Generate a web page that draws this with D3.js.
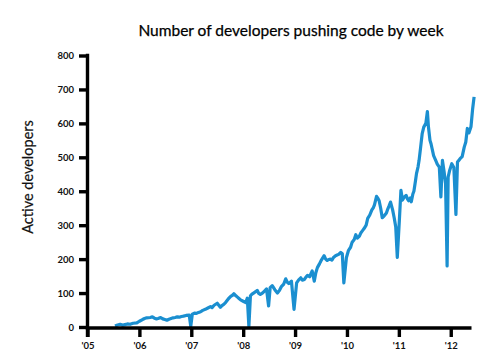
<!DOCTYPE html>
<html><head><meta charset="utf-8">
<script src="https://cdn.jsdelivr.net/npm/d3@7"></script>
<style>body{margin:0;background:#fff}svg{display:block}</style>
</head><body>
<svg id="c" width="487" height="363"></svg>
<script>
const years = [2005.53,2005.58,2005.63,2005.68,2005.72,2005.77,2005.82,2005.88,2005.95,2006.00,2006.06,2006.10,2006.14,2006.21,2006.25,2006.29,2006.33,2006.36,2006.41,2006.45,2006.49,2006.53,2006.57,2006.61,2006.65,2006.69,2006.73,2006.77,2006.81,2006.85,2006.90,2006.96,2006.99,2007.02,2007.06,2007.10,2007.14,2007.18,2007.22,2007.27,2007.32,2007.37,2007.40,2007.44,2007.47,2007.50,2007.53,2007.56,2007.59,2007.62,2007.66,2007.69,2007.72,2007.76,2007.79,2007.82,2007.86,2007.89,2007.92,2007.95,2008.00,2008.05,2008.08,2008.11,2008.14,2008.17,2008.20,2008.24,2008.27,2008.30,2008.33,2008.37,2008.41,2008.45,2008.49,2008.52,2008.56,2008.61,2008.66,2008.70,2008.74,2008.78,2008.82,2008.85,2008.88,2008.93,2008.98,2009.03,2009.07,2009.11,2009.14,2009.18,2009.21,2009.24,2009.28,2009.33,2009.37,2009.40,2009.43,2009.47,2009.51,2009.56,2009.59,2009.62,2009.65,2009.68,2009.71,2009.74,2009.78,2009.81,2009.84,2009.88,2009.91,2009.94,2009.99,2010.03,2010.07,2010.10,2010.14,2010.17,2010.20,2010.24,2010.27,2010.30,2010.33,2010.37,2010.40,2010.44,2010.48,2010.51,2010.53,2010.57,2010.60,2010.62,2010.65,2010.68,2010.71,2010.73,2010.76,2010.78,2010.81,2010.84,2010.88,2010.91,2010.94,2010.97,2011.01,2011.04,2011.07,2011.10,2011.14,2011.17,2011.19,2011.22,2011.24,2011.27,2011.29,2011.32,2011.34,2011.37,2011.39,2011.42,2011.45,2011.48,2011.52,2011.55,2011.57,2011.60,2011.62,2011.64,2011.67,2011.71,2011.74,2011.78,2011.81,2011.84,2011.87,2011.90,2011.93,2011.95,2011.98,2012.02,2012.06,2012.10,2012.13,2012.15,2012.18,2012.22,2012.26,2012.29,2012.32,2012.35,2012.39,2012.42,2012.45,2012.49,2012.52];
const developers = [3,6,8,5,7,9,8,11,12,17,22,25,27,28,30,26,24,25,28,24,22,20,23,25,27,28,30,29,31,32,34,35,2,38,41,40,43,45,49,52,56,60,57,64,67,70,64,58,63,66,72,78,84,90,93,98,92,88,84,80,76,72,85,2,92,97,100,104,108,99,96,100,106,112,62,116,122,110,100,108,120,126,142,132,128,135,52,130,139,145,138,140,147,152,148,165,135,160,175,186,198,210,200,196,199,200,197,205,210,212,214,220,216,130,205,226,235,250,258,272,262,268,278,284,290,300,320,330,345,352,360,385,378,372,350,322,326,330,336,345,356,368,345,322,295,205,315,403,374,382,388,376,372,380,369,392,400,430,452,472,491,530,570,589,600,635,590,550,540,526,505,491,480,471,383,491,460,423,180,442,462,481,470,332,486,490,496,502,530,545,585,572,590,640,678];
const yTicks = [0,100,200,300,400,500,600,700,800];
const xTicks = [2005,2006,2007,2008,2009,2010,2011,2012];
const xTickLabels = ["'05","'06","'07","'08","'09","'10","'11","'12"];

const svg = d3.select("#c");
const x = d3.scaleLinear().domain([2005, 2012.4]).range([87.5, 471.5]);
const y = d3.scaleLinear().domain([0, 800]).range([327, 55.5]);

const font = "Lato, 'Open Sans', sans-serif";

svg.append("text").attr("x", 291).attr("y", 36).attr("text-anchor", "middle")
  .attr("font-family", font).attr("font-size", 15.5).attr("fill", "#000")
  .attr("stroke", "#000").attr("stroke-width", 0.25)
  .text("Number of developers pushing code by week");

svg.append("text").attr("transform", "translate(33,177) rotate(-90)").attr("text-anchor", "middle")
  .attr("font-family", font).attr("font-size", 14.5).attr("fill", "#111")
  .attr("stroke", "#111").attr("stroke-width", 0.2)
  .text("Active developers");

// line
const line = d3.line().x((d, i) => x(years[i])).y(d => y(d));
svg.append("path").datum(developers).attr("d", line)
  .attr("fill", "none").attr("stroke", "#1b8fd0").attr("stroke-width", 3.2)
  .attr("stroke-linejoin", "round");

// y axis
const ya = svg.append("g").attr("transform", "translate(87.5,0)")
  .call(d3.axisLeft(y).tickValues(yTicks).tickSize(8.5).tickPadding(5).tickSizeOuter(0));
ya.select(".domain").style("stroke-width", "3.4px").style("stroke", "#000").attr("d", `M0,${y(800)-1.7}V${y(0)+10}`);
ya.selectAll(".tick line").style("stroke-width", "3.4px").style("stroke", "#000");
ya.selectAll(".tick text").attr("font-family", font).attr("font-weight", "bold")
  .attr("font-size", 9.5).attr("fill", "#111");

// x axis
const xa = svg.append("g").attr("transform", "translate(0,328)")
  .call(d3.axisBottom(x).tickValues(xTicks).tickFormat((d, i) => xTickLabels[i]).tickSize(9).tickPadding(5).tickSizeOuter(0));
xa.select(".domain").style("stroke-width", "3.4px").style("stroke", "#000").attr("d", `M${x(2005)-1.7},0H${x(2012.4)}`);
xa.selectAll(".tick line").style("stroke-width", "3.4px").style("stroke", "#000");
xa.selectAll(".tick text").attr("font-family", font).attr("font-weight", "bold")
  .attr("font-size", 9.5).attr("fill", "#111");
</script>
</body></html>
